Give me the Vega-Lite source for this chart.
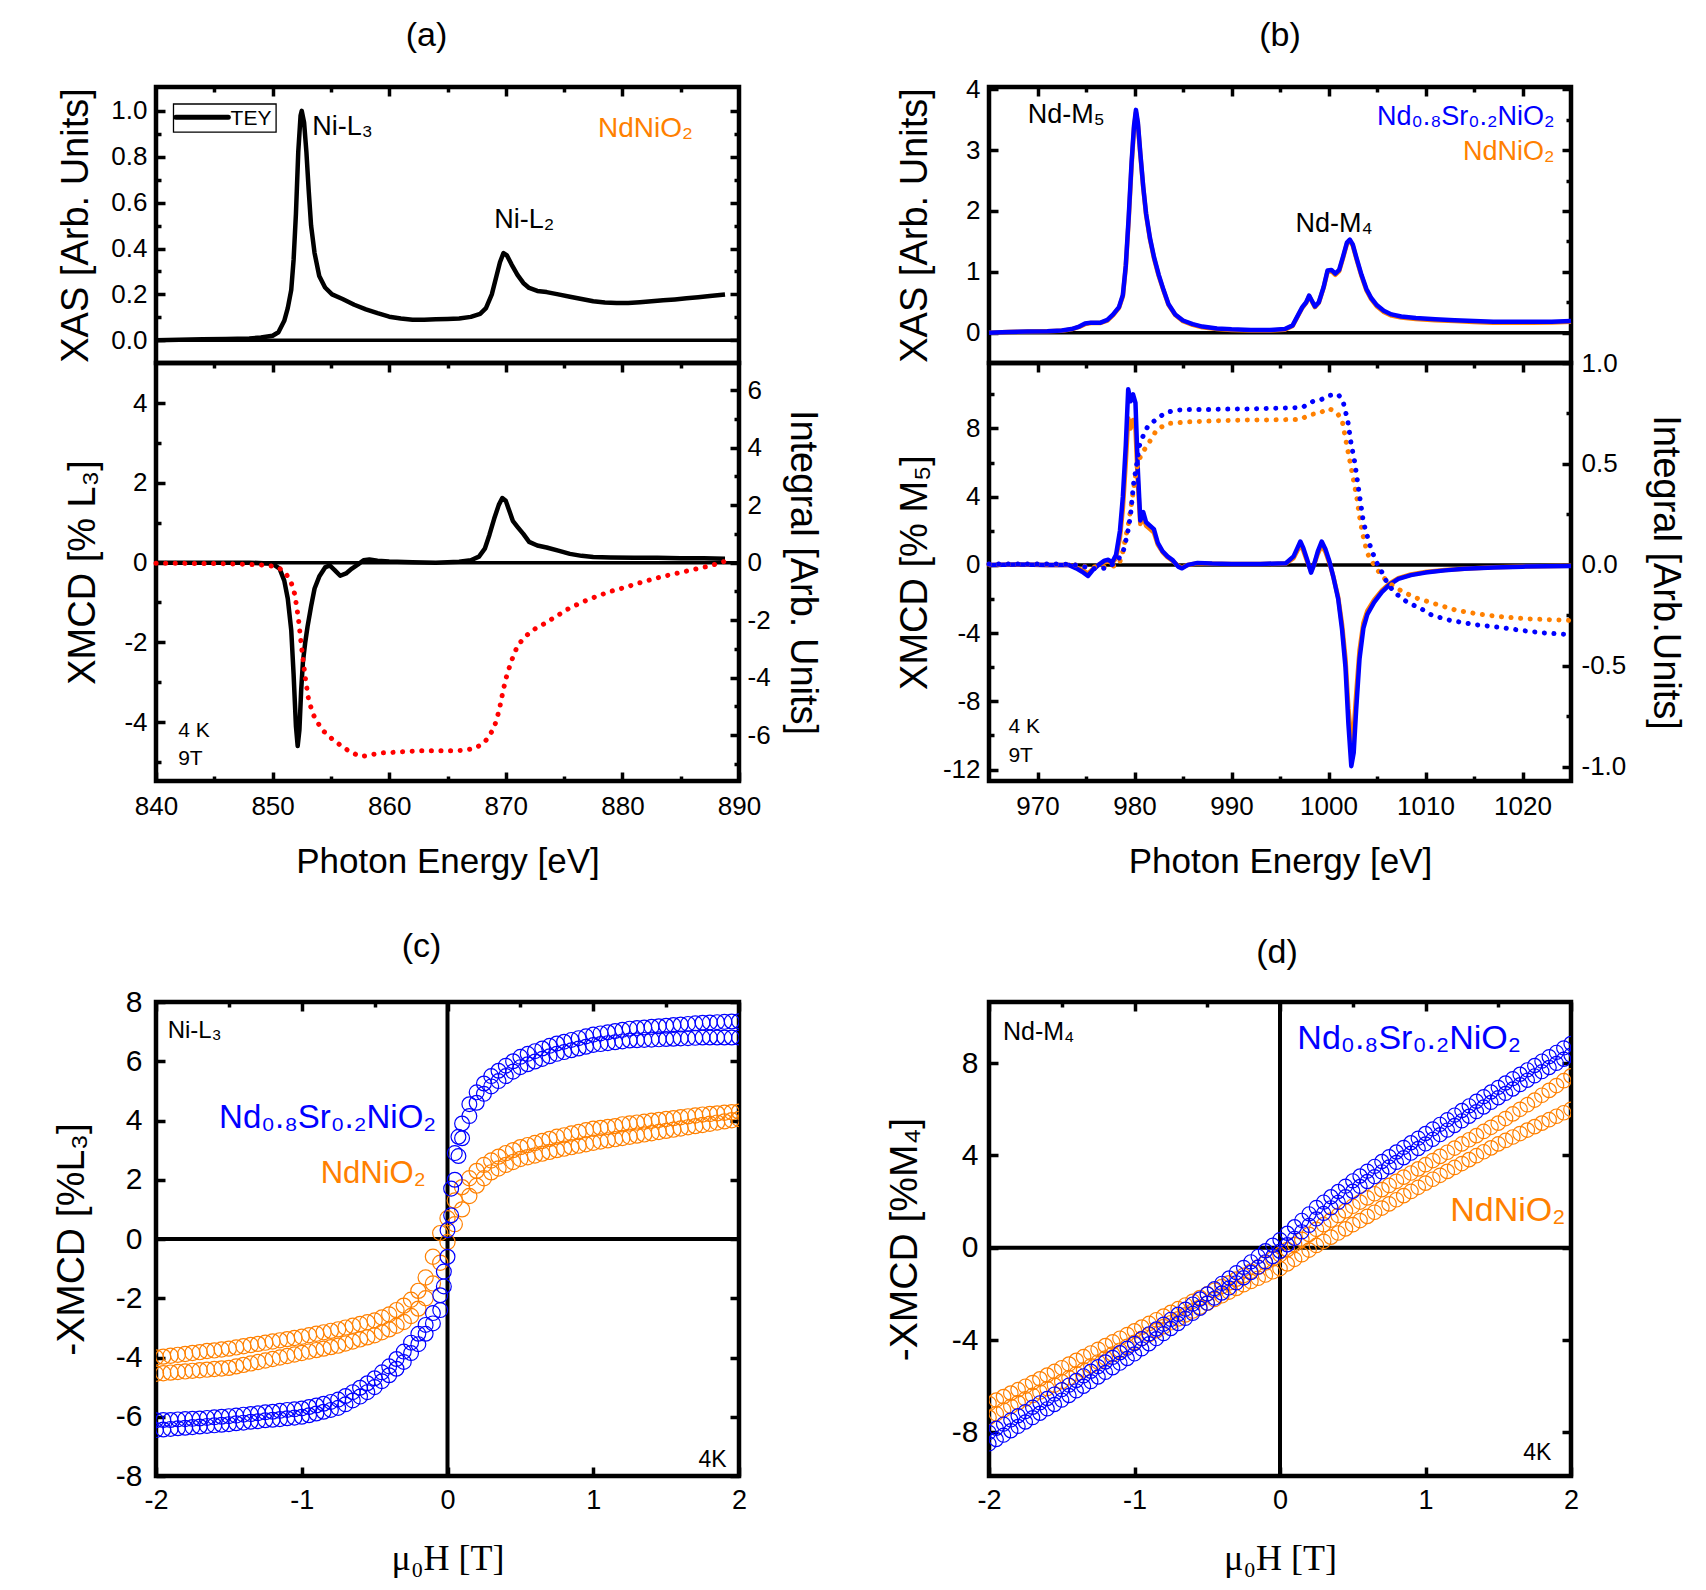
{
  "$schema": "https://vega.github.io/schema/vega-lite/v6.json",
  "background": "white",
  "padding": {"left": 50, "top": 16, "right": 5, "bottom": 5},
  "autosize": {"type": "pad"},
  "config": {
    "view": {"stroke": null},
    "font": "Liberation Sans",
    "axis": {"grid": false, "domain": false, "tickColor": "black", "tickWidth": 3.5, "labelColor": "black", "titleColor": "black", "labelFont": "Liberation Sans", "titleFont": "Liberation Sans", "titleFontWeight": "normal", "labelFontSize": 26, "titleFontSize": 35, "labelFlush": false, "labelOverlap": false, "labelBound": false},
    "title": {"font": "Liberation Sans", "fontWeight": "normal", "fontSize": 34, "color": "black", "anchor": "middle", "baseline": "bottom", "frame": "group"},
    "text": {"font": "Liberation Sans"}
  },
  "datasets": {
    "aXAS": [
      {"e":840,"v":0.0},{"e":842,"v":0.002},{"e":844,"v":0.004},{"e":846,"v":0.006},{"e":848,"v":0.008},{"e":849,"v":0.012},{"e":850,"v":0.02},{"e":850.5,"v":0.035},{"e":851,"v":0.085},{"e":851.3,"v":0.14},{"e":851.6,"v":0.22},{"e":851.8,"v":0.35},{"e":852.0,"v":0.55},{"e":852.2,"v":0.82},{"e":852.4,"v":0.98},{"e":852.5,"v":1.0},{"e":852.7,"v":0.95},{"e":852.9,"v":0.82},{"e":853.1,"v":0.65},{"e":853.3,"v":0.5},{"e":853.6,"v":0.38},{"e":854.0,"v":0.28},{"e":854.5,"v":0.23},{"e":855.1,"v":0.2},{"e":856,"v":0.18},{"e":857,"v":0.155},{"e":858,"v":0.135},{"e":859,"v":0.118},{"e":860,"v":0.103},{"e":861,"v":0.095},{"e":862,"v":0.09},{"e":863,"v":0.09},{"e":864,"v":0.092},{"e":865,"v":0.093},{"e":866,"v":0.095},{"e":867,"v":0.102},{"e":867.8,"v":0.115},{"e":868.3,"v":0.14},{"e":868.8,"v":0.2},{"e":869.2,"v":0.28},{"e":869.5,"v":0.34},{"e":869.8,"v":0.38},{"e":870.1,"v":0.37},{"e":870.5,"v":0.33},{"e":871,"v":0.285},{"e":871.5,"v":0.25},{"e":872,"v":0.228},{"e":872.7,"v":0.215},{"e":873.5,"v":0.21},{"e":874.5,"v":0.2},{"e":875.5,"v":0.19},{"e":876.5,"v":0.18},{"e":877.5,"v":0.17},{"e":878.5,"v":0.165},{"e":879.5,"v":0.162},{"e":880.5,"v":0.163},{"e":881.5,"v":0.166},{"e":882.5,"v":0.17},{"e":883.5,"v":0.174},{"e":884.5,"v":0.178},{"e":885.5,"v":0.183},{"e":886.5,"v":0.188},{"e":887.5,"v":0.193},{"e":888.8,"v":0.2}
    ],
    "aXMCD": [
      {"e":840,"v":0.0},{"e":845,"v":0.0},{"e":848,"v":0.0},{"e":850,"v":-0.03},{"e":850.6,"v":-0.15},{"e":851.0,"v":-0.45},{"e":851.3,"v":-0.9},{"e":851.6,"v":-1.7},{"e":851.8,"v":-2.8},{"e":852.0,"v":-4.1},{"e":852.15,"v":-4.6},{"e":852.3,"v":-4.2},{"e":852.45,"v":-3.2},{"e":852.6,"v":-2.5},{"e":852.8,"v":-2.0},{"e":853.0,"v":-1.6},{"e":853.3,"v":-1.1},{"e":853.6,"v":-0.65},{"e":854.0,"v":-0.35},{"e":854.5,"v":-0.12},{"e":854.9,"v":-0.07},{"e":855.3,"v":-0.18},{"e":855.8,"v":-0.33},{"e":856.3,"v":-0.27},{"e":856.8,"v":-0.15},{"e":857.3,"v":-0.05},{"e":857.8,"v":0.06},{"e":858.3,"v":0.08},{"e":859,"v":0.05},{"e":860,"v":0.03},{"e":862,"v":0.01},{"e":864,"v":0.0},{"e":866,"v":0.02},{"e":867,"v":0.06},{"e":867.7,"v":0.15},{"e":868.2,"v":0.35},{"e":868.6,"v":0.7},{"e":869.0,"v":1.1},{"e":869.4,"v":1.45},{"e":869.7,"v":1.62},{"e":870.0,"v":1.55},{"e":870.3,"v":1.3},{"e":870.6,"v":1.05},{"e":871.0,"v":0.9},{"e":871.5,"v":0.72},{"e":872.0,"v":0.52},{"e":872.7,"v":0.43},{"e":873.5,"v":0.38},{"e":874.5,"v":0.3},{"e":875.5,"v":0.22},{"e":876.5,"v":0.17},{"e":877.5,"v":0.14},{"e":879,"v":0.13},{"e":881,"v":0.12},{"e":883,"v":0.12},{"e":885,"v":0.11},{"e":887,"v":0.11},{"e":888.8,"v":0.1}
    ],
    "aInt": [
      {"e":840,"v":-0.02},{"e":841,"v":-0.02},{"e":842,"v":-0.02},{"e":843,"v":-0.03},{"e":844,"v":-0.03},{"e":845,"v":-0.03},{"e":846,"v":-0.04},{"e":847,"v":-0.05},{"e":848,"v":-0.06},{"e":849,"v":-0.08},{"e":850,"v":-0.12},{"e":850.6,"v":-0.2},{"e":851.1,"v":-0.35},{"e":851.6,"v":-0.7},{"e":851.9,"v":-1.1},{"e":852.2,"v":-1.9},{"e":852.5,"v":-3.0},{"e":852.8,"v":-4.0},{"e":853.1,"v":-4.8},{"e":853.5,"v":-5.3},{"e":854.2,"v":-5.8},{"e":855.0,"v":-6.1},{"e":855.8,"v":-6.35},{"e":856.7,"v":-6.6},{"e":857.6,"v":-6.75},{"e":858.5,"v":-6.68},{"e":859.5,"v":-6.62},{"e":860.5,"v":-6.6},{"e":861.5,"v":-6.57},{"e":862.5,"v":-6.55},{"e":863.5,"v":-6.55},{"e":864.5,"v":-6.55},{"e":865.5,"v":-6.55},{"e":866.5,"v":-6.53},{"e":867.4,"v":-6.45},{"e":868.0,"v":-6.3},{"e":868.5,"v":-6.1},{"e":868.9,"v":-5.8},{"e":869.2,"v":-5.5},{"e":869.5,"v":-5.0},{"e":869.8,"v":-4.4},{"e":870.1,"v":-3.9},{"e":870.5,"v":-3.4},{"e":871.0,"v":-2.9},{"e":871.6,"v":-2.6},{"e":872.3,"v":-2.35},{"e":873.2,"v":-2.15},{"e":874.2,"v":-1.9},{"e":875.3,"v":-1.62},{"e":876.5,"v":-1.38},{"e":877.8,"v":-1.17},{"e":879.0,"v":-1.0},{"e":880.3,"v":-0.85},{"e":881.5,"v":-0.7},{"e":882.8,"v":-0.55},{"e":884.0,"v":-0.43},{"e":885.2,"v":-0.32},{"e":886.3,"v":-0.22},{"e":887.3,"v":-0.13},{"e":888.2,"v":-0.03},{"e":888.9,"v":0.06}
    ],
    "bXASb": [
      {"e":965,"v":0.0},{"e":967,"v":0.01},{"e":969,"v":0.02},{"e":971,"v":0.025},{"e":972.5,"v":0.035},{"e":973.5,"v":0.06},{"e":974.3,"v":0.1},{"e":974.9,"v":0.15},{"e":975.5,"v":0.165},{"e":976.5,"v":0.165},{"e":977.2,"v":0.21},{"e":977.8,"v":0.3},{"e":978.4,"v":0.42},{"e":978.8,"v":0.62},{"e":979.1,"v":1.1},{"e":979.4,"v":1.9},{"e":979.7,"v":2.8},{"e":979.95,"v":3.4},{"e":980.15,"v":3.66},{"e":980.35,"v":3.45},{"e":980.6,"v":2.95},{"e":980.9,"v":2.4},{"e":981.2,"v":1.95},{"e":981.6,"v":1.55},{"e":982.0,"v":1.25},{"e":982.5,"v":0.95},{"e":983.0,"v":0.7},{"e":983.5,"v":0.47},{"e":984.2,"v":0.3},{"e":985.0,"v":0.2},{"e":986.0,"v":0.14},{"e":987.0,"v":0.1},{"e":988.5,"v":0.07},{"e":990,"v":0.055},{"e":992,"v":0.045},{"e":994,"v":0.045},{"e":995.5,"v":0.06},{"e":996.3,"v":0.12},{"e":996.9,"v":0.3},{"e":997.3,"v":0.42},{"e":997.7,"v":0.5},{"e":998.0,"v":0.61},{"e":998.3,"v":0.52},{"e":998.6,"v":0.43},{"e":999.0,"v":0.5},{"e":999.5,"v":0.75},{"e":999.9,"v":1.02},{"e":1000.3,"v":1.03},{"e":1000.7,"v":0.97},{"e":1001.1,"v":1.03},{"e":1001.5,"v":1.25},{"e":1001.9,"v":1.48},{"e":1002.2,"v":1.53},{"e":1002.5,"v":1.45},{"e":1002.9,"v":1.22},{"e":1003.4,"v":0.95},{"e":1003.9,"v":0.72},{"e":1004.4,"v":0.57},{"e":1005.0,"v":0.45},{"e":1005.7,"v":0.36},{"e":1006.5,"v":0.3},{"e":1007.5,"v":0.265},{"e":1009,"v":0.24},{"e":1011,"v":0.22},{"e":1013,"v":0.205},{"e":1015,"v":0.19},{"e":1017,"v":0.18},{"e":1019,"v":0.178},{"e":1021,"v":0.178},{"e":1023,"v":0.18},{"e":1025,"v":0.19}
    ],
    "bXASo": [
      {"e":965,"v":0.0},{"e":967,"v":0.01},{"e":969,"v":0.018},{"e":971,"v":0.022},{"e":972.5,"v":0.03},{"e":973.5,"v":0.055},{"e":974.3,"v":0.095},{"e":974.9,"v":0.14},{"e":975.5,"v":0.16},{"e":976.5,"v":0.16},{"e":977.2,"v":0.2},{"e":977.8,"v":0.29},{"e":978.4,"v":0.41},{"e":978.8,"v":0.6},{"e":979.1,"v":1.07},{"e":979.4,"v":1.85},{"e":979.7,"v":2.75},{"e":979.95,"v":3.36},{"e":980.15,"v":3.62},{"e":980.35,"v":3.42},{"e":980.6,"v":2.93},{"e":980.9,"v":2.38},{"e":981.2,"v":1.93},{"e":981.6,"v":1.53},{"e":982.0,"v":1.23},{"e":982.5,"v":0.93},{"e":983.0,"v":0.69},{"e":983.5,"v":0.46},{"e":984.2,"v":0.29},{"e":985.0,"v":0.19},{"e":986.0,"v":0.13},{"e":987.0,"v":0.09},{"e":988.5,"v":0.06},{"e":990,"v":0.045},{"e":992,"v":0.035},{"e":994,"v":0.035},{"e":995.5,"v":0.05},{"e":996.3,"v":0.11},{"e":996.9,"v":0.29},{"e":997.3,"v":0.41},{"e":997.7,"v":0.49},{"e":998.0,"v":0.6},{"e":998.3,"v":0.51},{"e":998.6,"v":0.42},{"e":999.0,"v":0.49},{"e":999.5,"v":0.74},{"e":999.9,"v":1.0},{"e":1000.3,"v":1.01},{"e":1000.7,"v":0.95},{"e":1001.1,"v":1.01},{"e":1001.5,"v":1.23},{"e":1001.9,"v":1.46},{"e":1002.2,"v":1.51},{"e":1002.5,"v":1.43},{"e":1002.9,"v":1.2},{"e":1003.4,"v":0.93},{"e":1003.9,"v":0.7},{"e":1004.4,"v":0.55},{"e":1005.0,"v":0.43},{"e":1005.7,"v":0.34},{"e":1006.5,"v":0.28},{"e":1007.5,"v":0.25},{"e":1009,"v":0.225},{"e":1011,"v":0.205},{"e":1013,"v":0.19},{"e":1015,"v":0.175},{"e":1017,"v":0.165},{"e":1019,"v":0.162},{"e":1021,"v":0.163},{"e":1023,"v":0.168},{"e":1025,"v":0.18}
    ],
    "bXMCDb": [
      {"e":965,"v":0.0},{"e":968,"v":0.02},{"e":971,"v":0.0},{"e":973.2,"v":0.0},{"e":974.0,"v":-0.2},{"e":974.6,"v":-0.4},{"e":975.2,"v":-0.65},{"e":975.7,"v":-0.3},{"e":976.3,"v":0.0},{"e":976.9,"v":0.25},{"e":977.3,"v":0.3},{"e":977.7,"v":0.15},{"e":978.1,"v":0.6},{"e":978.5,"v":2.0},{"e":978.8,"v":4.0},{"e":979.1,"v":7.0},{"e":979.35,"v":10.3},{"e":979.6,"v":9.6},{"e":979.85,"v":10.0},{"e":980.1,"v":9.5},{"e":980.35,"v":5.5},{"e":980.6,"v":2.6},{"e":980.9,"v":3.1},{"e":981.2,"v":2.5},{"e":981.6,"v":2.3},{"e":982.0,"v":2.1},{"e":982.4,"v":1.3},{"e":982.9,"v":0.8},{"e":983.4,"v":0.5},{"e":983.9,"v":0.3},{"e":984.5,"v":-0.1},{"e":984.9,"v":-0.2},{"e":985.5,"v":0.0},{"e":986.5,"v":0.12},{"e":988,"v":0.08},{"e":990,"v":0.06},{"e":993,"v":0.06},{"e":995.6,"v":0.1},{"e":996.4,"v":0.5},{"e":996.8,"v":1.0},{"e":997.1,"v":1.37},{"e":997.4,"v":1.0},{"e":997.8,"v":0.3},{"e":998.2,"v":-0.45},{"e":998.5,"v":0.0},{"e":998.9,"v":0.8},{"e":999.3,"v":1.37},{"e":999.7,"v":0.9},{"e":1000.1,"v":0.2},{"e":1000.5,"v":-0.7},{"e":1001.0,"v":-2.0},{"e":1001.4,"v":-3.8},{"e":1001.75,"v":-6.0},{"e":1002.05,"v":-9.3},{"e":1002.35,"v":-11.8},{"e":1002.6,"v":-11.0},{"e":1002.85,"v":-8.5},{"e":1003.2,"v":-5.5},{"e":1003.6,"v":-3.7},{"e":1004.0,"v":-2.9},{"e":1004.7,"v":-2.2},{"e":1005.5,"v":-1.6},{"e":1006.3,"v":-1.15},{"e":1007.2,"v":-0.82},{"e":1008.5,"v":-0.6},{"e":1010,"v":-0.45},{"e":1012,"v":-0.32},{"e":1014,"v":-0.23},{"e":1017,"v":-0.15},{"e":1020,"v":-0.1},{"e":1025,"v":-0.06}
    ],
    "bXMCDo": [
      {"e":965,"v":0.0},{"e":968,"v":0.02},{"e":971,"v":0.0},{"e":973.2,"v":0.0},{"e":974.0,"v":-0.15},{"e":974.6,"v":-0.3},{"e":975.2,"v":-0.5},{"e":975.7,"v":-0.25},{"e":976.3,"v":0.0},{"e":976.9,"v":0.15},{"e":977.3,"v":0.2},{"e":977.7,"v":0.1},{"e":978.1,"v":0.4},{"e":978.5,"v":1.6},{"e":978.8,"v":3.3},{"e":979.1,"v":6.0},{"e":979.35,"v":8.6},{"e":979.6,"v":8.0},{"e":979.85,"v":8.5},{"e":980.1,"v":8.0},{"e":980.35,"v":4.8},{"e":980.6,"v":2.4},{"e":980.9,"v":2.8},{"e":981.2,"v":2.3},{"e":981.6,"v":2.1},{"e":982.0,"v":1.9},{"e":982.4,"v":1.2},{"e":982.9,"v":0.75},{"e":983.4,"v":0.45},{"e":983.9,"v":0.25},{"e":984.5,"v":-0.05},{"e":984.9,"v":-0.15},{"e":985.5,"v":0.0},{"e":986.5,"v":0.1},{"e":988,"v":0.07},{"e":990,"v":0.05},{"e":993,"v":0.05},{"e":995.6,"v":0.08},{"e":996.4,"v":0.4},{"e":996.8,"v":0.85},{"e":997.1,"v":1.15},{"e":997.4,"v":0.85},{"e":997.8,"v":0.2},{"e":998.2,"v":-0.35},{"e":998.5,"v":0.0},{"e":998.9,"v":0.65},{"e":999.3,"v":1.15},{"e":999.7,"v":0.75},{"e":1000.1,"v":0.1},{"e":1000.5,"v":-0.7},{"e":1001.0,"v":-1.9},{"e":1001.4,"v":-3.5},{"e":1001.75,"v":-5.5},{"e":1002.05,"v":-8.4},{"e":1002.35,"v":-10.3},{"e":1002.6,"v":-9.7},{"e":1002.85,"v":-7.6},{"e":1003.2,"v":-5.0},{"e":1003.6,"v":-3.4},{"e":1004.0,"v":-2.7},{"e":1004.7,"v":-2.05},{"e":1005.5,"v":-1.5},{"e":1006.3,"v":-1.08},{"e":1007.2,"v":-0.78},{"e":1008.5,"v":-0.56},{"e":1010,"v":-0.42},{"e":1012,"v":-0.3},{"e":1014,"v":-0.22},{"e":1017,"v":-0.14},{"e":1020,"v":-0.09},{"e":1025,"v":-0.05}
    ],
    "bIntb": [
      {"e":965,"v":0.005},{"e":968,"v":0.005},{"e":971,"v":0.005},{"e":973.5,"v":0.003},{"e":974.5,"v":-0.005},{"e":975.5,"v":-0.017},{"e":976.5,"v":-0.02},{"e":977.4,"v":-0.01},{"e":978.2,"v":0.02},{"e":978.8,"v":0.06},{"e":979.3,"v":0.16},{"e":979.6,"v":0.25},{"e":979.9,"v":0.4},{"e":980.2,"v":0.49},{"e":980.5,"v":0.59},{"e":980.9,"v":0.64},{"e":981.3,"v":0.68},{"e":982.3,"v":0.725},{"e":983.3,"v":0.755},{"e":984.3,"v":0.767},{"e":986,"v":0.77},{"e":988,"v":0.77},{"e":990,"v":0.772},{"e":992,"v":0.773},{"e":994,"v":0.775},{"e":996,"v":0.778},{"e":997.3,"v":0.78},{"e":998.4,"v":0.81},{"e":999.3,"v":0.82},{"e":1000.1,"v":0.84},{"e":1001.0,"v":0.845},{"e":1001.5,"v":0.81},{"e":1002.0,"v":0.71},{"e":1002.3,"v":0.61},{"e":1002.7,"v":0.51},{"e":1003.0,"v":0.41},{"e":1003.3,"v":0.31},{"e":1003.6,"v":0.21},{"e":1003.9,"v":0.16},{"e":1004.2,"v":0.108},{"e":1004.5,"v":0.067},{"e":1004.9,"v":0.017},{"e":1005.4,"v":-0.025},{"e":1005.9,"v":-0.075},{"e":1006.6,"v":-0.125},{"e":1007.4,"v":-0.16},{"e":1008.3,"v":-0.19},{"e":1009.3,"v":-0.21},{"e":1010.7,"v":-0.25},{"e":1012.6,"v":-0.275},{"e":1015.0,"v":-0.295},{"e":1017.5,"v":-0.308},{"e":1020.0,"v":-0.325},{"e":1022.5,"v":-0.338},{"e":1025,"v":-0.345}
    ],
    "bInto": [
      {"e":965,"v":0.003},{"e":970,"v":0.003},{"e":973.5,"v":0.002},{"e":975,"v":-0.008},{"e":976.5,"v":-0.012},{"e":977.6,"v":-0.008},{"e":978.4,"v":0.0},{"e":978.8,"v":0.067},{"e":979.4,"v":0.21},{"e":979.8,"v":0.34},{"e":980.2,"v":0.475},{"e":980.7,"v":0.55},{"e":981.3,"v":0.59},{"e":982.3,"v":0.67},{"e":983.4,"v":0.7},{"e":985.4,"v":0.708},{"e":988,"v":0.713},{"e":991,"v":0.717},{"e":994,"v":0.718},{"e":996,"v":0.72},{"e":997.1,"v":0.72},{"e":998.1,"v":0.745},{"e":999.0,"v":0.75},{"e":1000.0,"v":0.775},{"e":1000.8,"v":0.758},{"e":1001.4,"v":0.717},{"e":1001.7,"v":0.64},{"e":1002.1,"v":0.54},{"e":1002.5,"v":0.44},{"e":1002.9,"v":0.34},{"e":1003.2,"v":0.24},{"e":1003.5,"v":0.158},{"e":1004.0,"v":0.058},{"e":1004.6,"v":0.008},{"e":1005.4,"v":-0.05},{"e":1006.4,"v":-0.095},{"e":1007.4,"v":-0.125},{"e":1008.8,"v":-0.16},{"e":1010.8,"v":-0.19},{"e":1013.2,"v":-0.225},{"e":1015.7,"v":-0.245},{"e":1018.1,"v":-0.258},{"e":1020.6,"v":-0.267},{"e":1025,"v":-0.275}
    ],
    "cB": [
      {"h":-2,"v":-6.12},{"h":-1.95,"v":-6.11},{"h":-1.9,"v":-6.11},{"h":-1.85,"v":-6.09},{"h":-1.8,"v":-6.08},{"h":-1.75,"v":-6.07},{"h":-1.7,"v":-6.06},{"h":-1.65,"v":-6.04},{"h":-1.6,"v":-6.02},{"h":-1.55,"v":-6.0},{"h":-1.5,"v":-5.98},{"h":-1.45,"v":-5.96},{"h":-1.4,"v":-5.93},{"h":-1.35,"v":-5.91},{"h":-1.3,"v":-5.88},{"h":-1.25,"v":-5.85},{"h":-1.2,"v":-5.83},{"h":-1.15,"v":-5.8},{"h":-1.1,"v":-5.77},{"h":-1.05,"v":-5.75},{"h":-1,"v":-5.72},{"h":-0.95,"v":-5.67},{"h":-0.9,"v":-5.62},{"h":-0.85,"v":-5.56},{"h":-0.8,"v":-5.5},{"h":-0.75,"v":-5.42},{"h":-0.7,"v":-5.3},{"h":-0.65,"v":-5.17},{"h":-0.6,"v":-5.02},{"h":-0.55,"v":-4.87},{"h":-0.5,"v":-4.7},{"h":-0.45,"v":-4.5},{"h":-0.4,"v":-4.3},{"h":-0.35,"v":-4.05},{"h":-0.3,"v":-3.8},{"h":-0.25,"v":-3.5},{"h":-0.2,"v":-3.2},{"h":-0.15,"v":-2.9},{"h":-0.1,"v":-2.5},{"h":-0.05,"v":-1.9},{"h":-0.025,"v":-1.1},{"h":0,"v":0.3},{"h":0.025,"v":1.7},{"h":0.05,"v":2.9},{"h":0.075,"v":3.45},{"h":0.1,"v":3.9},{"h":0.15,"v":4.55},{"h":0.2,"v":4.95},{"h":0.25,"v":5.25},{"h":0.3,"v":5.5},{"h":0.35,"v":5.68},{"h":0.4,"v":5.85},{"h":0.45,"v":6.0},{"h":0.5,"v":6.15},{"h":0.55,"v":6.25},{"h":0.6,"v":6.34},{"h":0.65,"v":6.43},{"h":0.7,"v":6.52},{"h":0.75,"v":6.6},{"h":0.8,"v":6.66},{"h":0.85,"v":6.72},{"h":0.9,"v":6.78},{"h":0.95,"v":6.84},{"h":1,"v":6.9},{"h":1.05,"v":6.94},{"h":1.1,"v":6.98},{"h":1.15,"v":7.02},{"h":1.2,"v":7.06},{"h":1.25,"v":7.1},{"h":1.3,"v":7.12},{"h":1.35,"v":7.14},{"h":1.4,"v":7.16},{"h":1.45,"v":7.18},{"h":1.5,"v":7.2},{"h":1.55,"v":7.22},{"h":1.6,"v":7.24},{"h":1.65,"v":7.26},{"h":1.7,"v":7.28},{"h":1.75,"v":7.3},{"h":1.8,"v":7.31},{"h":1.85,"v":7.32},{"h":1.9,"v":7.33},{"h":1.95,"v":7.34},{"h":2,"v":7.35},
      {"h":-2,"v":-6.45},{"h":-1.95,"v":-6.43},{"h":-1.9,"v":-6.41},{"h":-1.85,"v":-6.39},{"h":-1.8,"v":-6.37},{"h":-1.75,"v":-6.35},{"h":-1.7,"v":-6.33},{"h":-1.65,"v":-6.31},{"h":-1.6,"v":-6.29},{"h":-1.55,"v":-6.27},{"h":-1.5,"v":-6.25},{"h":-1.45,"v":-6.22},{"h":-1.4,"v":-6.2},{"h":-1.35,"v":-6.17},{"h":-1.3,"v":-6.15},{"h":-1.25,"v":-6.12},{"h":-1.2,"v":-6.1},{"h":-1.15,"v":-6.08},{"h":-1.1,"v":-6.05},{"h":-1.05,"v":-6.03},{"h":-1,"v":-6.0},{"h":-0.95,"v":-5.95},{"h":-0.9,"v":-5.89},{"h":-0.85,"v":-5.83},{"h":-0.8,"v":-5.77},{"h":-0.75,"v":-5.7},{"h":-0.7,"v":-5.58},{"h":-0.65,"v":-5.45},{"h":-0.6,"v":-5.32},{"h":-0.55,"v":-5.17},{"h":-0.5,"v":-5.0},{"h":-0.45,"v":-4.8},{"h":-0.4,"v":-4.6},{"h":-0.35,"v":-4.38},{"h":-0.3,"v":-4.15},{"h":-0.25,"v":-3.85},{"h":-0.2,"v":-3.55},{"h":-0.15,"v":-3.2},{"h":-0.1,"v":-2.85},{"h":-0.05,"v":-2.4},{"h":-0.025,"v":-1.6},{"h":0,"v":-0.6},{"h":0.025,"v":0.8},{"h":0.05,"v":2.0},{"h":0.075,"v":2.8},{"h":0.1,"v":3.4},{"h":0.15,"v":4.15},{"h":0.2,"v":4.6},{"h":0.25,"v":4.9},{"h":0.3,"v":5.15},{"h":0.35,"v":5.33},{"h":0.4,"v":5.5},{"h":0.45,"v":5.65},{"h":0.5,"v":5.8},{"h":0.55,"v":5.9},{"h":0.6,"v":5.99},{"h":0.65,"v":6.08},{"h":0.7,"v":6.17},{"h":0.75,"v":6.25},{"h":0.8,"v":6.31},{"h":0.85,"v":6.37},{"h":0.9,"v":6.43},{"h":0.95,"v":6.49},{"h":1,"v":6.55},{"h":1.05,"v":6.58},{"h":1.1,"v":6.61},{"h":1.15,"v":6.64},{"h":1.2,"v":6.67},{"h":1.25,"v":6.7},{"h":1.3,"v":6.71},{"h":1.35,"v":6.72},{"h":1.4,"v":6.73},{"h":1.45,"v":6.74},{"h":1.5,"v":6.75},{"h":1.55,"v":6.76},{"h":1.6,"v":6.77},{"h":1.65,"v":6.78},{"h":1.7,"v":6.79},{"h":1.75,"v":6.8},{"h":1.8,"v":6.8},{"h":1.85,"v":6.8},{"h":1.9,"v":6.8},{"h":1.95,"v":6.8},{"h":2,"v":6.8}
    ],
    "cO": [
      {"h":-2,"v":-4.0},{"h":-1.95,"v":-3.97},{"h":-1.9,"v":-3.94},{"h":-1.85,"v":-3.91},{"h":-1.8,"v":-3.88},{"h":-1.75,"v":-3.85},{"h":-1.7,"v":-3.82},{"h":-1.65,"v":-3.78},{"h":-1.6,"v":-3.76},{"h":-1.55,"v":-3.73},{"h":-1.5,"v":-3.7},{"h":-1.45,"v":-3.66},{"h":-1.4,"v":-3.62},{"h":-1.35,"v":-3.58},{"h":-1.3,"v":-3.54},{"h":-1.25,"v":-3.5},{"h":-1.2,"v":-3.46},{"h":-1.15,"v":-3.42},{"h":-1.1,"v":-3.38},{"h":-1.05,"v":-3.34},{"h":-1,"v":-3.3},{"h":-0.95,"v":-3.25},{"h":-0.9,"v":-3.2},{"h":-0.85,"v":-3.15},{"h":-0.8,"v":-3.1},{"h":-0.75,"v":-3.05},{"h":-0.7,"v":-2.99},{"h":-0.65,"v":-2.93},{"h":-0.6,"v":-2.87},{"h":-0.55,"v":-2.81},{"h":-0.5,"v":-2.75},{"h":-0.45,"v":-2.65},{"h":-0.4,"v":-2.55},{"h":-0.35,"v":-2.4},{"h":-0.3,"v":-2.25},{"h":-0.25,"v":-2.05},{"h":-0.2,"v":-1.75},{"h":-0.15,"v":-1.3},{"h":-0.1,"v":-0.6},{"h":-0.05,"v":0.2},{"h":0,"v":0.7},{"h":0.05,"v":1.3},{"h":0.1,"v":1.75},{"h":0.15,"v":2.05},{"h":0.2,"v":2.3},{"h":0.25,"v":2.5},{"h":0.3,"v":2.65},{"h":0.35,"v":2.78},{"h":0.4,"v":2.9},{"h":0.45,"v":3.0},{"h":0.5,"v":3.1},{"h":0.55,"v":3.17},{"h":0.6,"v":3.24},{"h":0.65,"v":3.31},{"h":0.7,"v":3.38},{"h":0.75,"v":3.45},{"h":0.8,"v":3.5},{"h":0.85,"v":3.56},{"h":0.9,"v":3.61},{"h":0.95,"v":3.67},{"h":1,"v":3.72},{"h":1.05,"v":3.75},{"h":1.1,"v":3.78},{"h":1.15,"v":3.81},{"h":1.2,"v":3.87},{"h":1.25,"v":3.9},{"h":1.3,"v":3.93},{"h":1.35,"v":3.96},{"h":1.4,"v":3.99},{"h":1.45,"v":4.02},{"h":1.5,"v":4.05},{"h":1.55,"v":4.08},{"h":1.6,"v":4.11},{"h":1.65,"v":4.14},{"h":1.7,"v":4.17},{"h":1.75,"v":4.2},{"h":1.8,"v":4.22},{"h":1.85,"v":4.24},{"h":1.9,"v":4.26},{"h":1.95,"v":4.28},{"h":2,"v":4.3},
      {"h":-2,"v":-4.55},{"h":-1.95,"v":-4.53},{"h":-1.9,"v":-4.51},{"h":-1.85,"v":-4.49},{"h":-1.8,"v":-4.47},{"h":-1.75,"v":-4.45},{"h":-1.7,"v":-4.43},{"h":-1.65,"v":-4.41},{"h":-1.6,"v":-4.39},{"h":-1.55,"v":-4.37},{"h":-1.5,"v":-4.35},{"h":-1.45,"v":-4.3},{"h":-1.4,"v":-4.25},{"h":-1.35,"v":-4.2},{"h":-1.3,"v":-4.15},{"h":-1.25,"v":-4.1},{"h":-1.2,"v":-4.05},{"h":-1.15,"v":-4.0},{"h":-1.1,"v":-3.95},{"h":-1.05,"v":-3.9},{"h":-1,"v":-3.85},{"h":-0.95,"v":-3.8},{"h":-0.9,"v":-3.75},{"h":-0.85,"v":-3.7},{"h":-0.8,"v":-3.65},{"h":-0.75,"v":-3.6},{"h":-0.7,"v":-3.53},{"h":-0.65,"v":-3.46},{"h":-0.6,"v":-3.39},{"h":-0.55,"v":-3.32},{"h":-0.5,"v":-3.25},{"h":-0.45,"v":-3.15},{"h":-0.4,"v":-3.05},{"h":-0.35,"v":-2.93},{"h":-0.3,"v":-2.8},{"h":-0.25,"v":-2.6},{"h":-0.2,"v":-2.35},{"h":-0.15,"v":-2.0},{"h":-0.1,"v":-1.5},{"h":-0.05,"v":-0.8},{"h":0,"v":-0.1},{"h":0.05,"v":0.5},{"h":0.1,"v":1.0},{"h":0.15,"v":1.45},{"h":0.2,"v":1.8},{"h":0.25,"v":2.05},{"h":0.3,"v":2.25},{"h":0.35,"v":2.38},{"h":0.4,"v":2.5},{"h":0.45,"v":2.6},{"h":0.5,"v":2.7},{"h":0.55,"v":2.76},{"h":0.6,"v":2.82},{"h":0.65,"v":2.88},{"h":0.7,"v":2.94},{"h":0.75,"v":3.0},{"h":0.8,"v":3.05},{"h":0.85,"v":3.1},{"h":0.9,"v":3.15},{"h":0.95,"v":3.2},{"h":1,"v":3.25},{"h":1.05,"v":3.29},{"h":1.1,"v":3.33},{"h":1.15,"v":3.37},{"h":1.2,"v":3.41},{"h":1.25,"v":3.45},{"h":1.3,"v":3.49},{"h":1.35,"v":3.53},{"h":1.4,"v":3.57},{"h":1.45,"v":3.61},{"h":1.5,"v":3.65},{"h":1.55,"v":3.69},{"h":1.6,"v":3.73},{"h":1.65,"v":3.77},{"h":1.7,"v":3.81},{"h":1.75,"v":3.85},{"h":1.8,"v":3.89},{"h":1.85,"v":3.93},{"h":1.9,"v":3.97},{"h":1.95,"v":4.01},{"h":2,"v":4.05}
    ],
    "dB": [
      {"h":-2,"v":-8.0},{"h":-1.95,"v":-7.82},{"h":-1.9,"v":-7.64},{"h":-1.85,"v":-7.46},{"h":-1.8,"v":-7.28},{"h":-1.75,"v":-7.1},{"h":-1.7,"v":-6.91},{"h":-1.65,"v":-6.72},{"h":-1.6,"v":-6.53},{"h":-1.55,"v":-6.34},{"h":-1.5,"v":-6.15},{"h":-1.45,"v":-5.95},{"h":-1.4,"v":-5.75},{"h":-1.35,"v":-5.55},{"h":-1.3,"v":-5.35},{"h":-1.25,"v":-5.15},{"h":-1.2,"v":-4.95},{"h":-1.15,"v":-4.75},{"h":-1.1,"v":-4.55},{"h":-1.05,"v":-4.35},{"h":-1,"v":-4.15},{"h":-0.95,"v":-3.94},{"h":-0.9,"v":-3.73},{"h":-0.85,"v":-3.52},{"h":-0.8,"v":-3.31},{"h":-0.75,"v":-3.1},{"h":-0.7,"v":-2.88},{"h":-0.65,"v":-2.66},{"h":-0.6,"v":-2.44},{"h":-0.55,"v":-2.22},{"h":-0.5,"v":-2.0},{"h":-0.45,"v":-1.77},{"h":-0.4,"v":-1.54},{"h":-0.35,"v":-1.31},{"h":-0.3,"v":-1.08},{"h":-0.25,"v":-0.85},{"h":-0.2,"v":-0.61},{"h":-0.15,"v":-0.37},{"h":-0.1,"v":-0.13},{"h":-0.05,"v":0.11},{"h":0,"v":0.35},{"h":0.05,"v":0.63},{"h":0.1,"v":0.91},{"h":0.15,"v":1.19},{"h":0.2,"v":1.47},{"h":0.25,"v":1.75},{"h":0.3,"v":1.98},{"h":0.35,"v":2.21},{"h":0.4,"v":2.44},{"h":0.45,"v":2.67},{"h":0.5,"v":2.9},{"h":0.55,"v":3.11},{"h":0.6,"v":3.32},{"h":0.65,"v":3.53},{"h":0.7,"v":3.74},{"h":0.75,"v":3.95},{"h":0.8,"v":4.15},{"h":0.85,"v":4.35},{"h":0.9,"v":4.55},{"h":0.95,"v":4.75},{"h":1,"v":4.95},{"h":1.05,"v":5.15},{"h":1.1,"v":5.35},{"h":1.15,"v":5.55},{"h":1.2,"v":5.75},{"h":1.25,"v":5.95},{"h":1.3,"v":6.15},{"h":1.35,"v":6.35},{"h":1.4,"v":6.55},{"h":1.45,"v":6.75},{"h":1.5,"v":6.95},{"h":1.55,"v":7.14},{"h":1.6,"v":7.33},{"h":1.65,"v":7.52},{"h":1.7,"v":7.71},{"h":1.75,"v":7.9},{"h":1.8,"v":8.09},{"h":1.85,"v":8.28},{"h":1.9,"v":8.47},{"h":1.95,"v":8.66},{"h":2,"v":8.85},
      {"h":-2,"v":-8.5},{"h":-1.95,"v":-8.31},{"h":-1.9,"v":-8.12},{"h":-1.85,"v":-7.93},{"h":-1.8,"v":-7.74},{"h":-1.75,"v":-7.55},{"h":-1.7,"v":-7.36},{"h":-1.65,"v":-7.17},{"h":-1.6,"v":-6.98},{"h":-1.55,"v":-6.79},{"h":-1.5,"v":-6.6},{"h":-1.45,"v":-6.4},{"h":-1.4,"v":-6.2},{"h":-1.35,"v":-6.0},{"h":-1.3,"v":-5.8},{"h":-1.25,"v":-5.6},{"h":-1.2,"v":-5.4},{"h":-1.15,"v":-5.2},{"h":-1.1,"v":-5.0},{"h":-1.05,"v":-4.8},{"h":-1,"v":-4.6},{"h":-0.95,"v":-4.38},{"h":-0.9,"v":-4.16},{"h":-0.85,"v":-3.94},{"h":-0.8,"v":-3.72},{"h":-0.75,"v":-3.5},{"h":-0.7,"v":-3.28},{"h":-0.65,"v":-3.06},{"h":-0.6,"v":-2.84},{"h":-0.55,"v":-2.62},{"h":-0.5,"v":-2.4},{"h":-0.45,"v":-2.18},{"h":-0.4,"v":-1.96},{"h":-0.35,"v":-1.74},{"h":-0.3,"v":-1.52},{"h":-0.25,"v":-1.3},{"h":-0.2,"v":-1.07},{"h":-0.15,"v":-0.84},{"h":-0.1,"v":-0.61},{"h":-0.05,"v":-0.38},{"h":0,"v":-0.15},{"h":0.05,"v":0.13},{"h":0.1,"v":0.41},{"h":0.15,"v":0.69},{"h":0.2,"v":0.97},{"h":0.25,"v":1.25},{"h":0.3,"v":1.49},{"h":0.35,"v":1.73},{"h":0.4,"v":1.97},{"h":0.45,"v":2.21},{"h":0.5,"v":2.45},{"h":0.55,"v":2.66},{"h":0.6,"v":2.87},{"h":0.65,"v":3.08},{"h":0.7,"v":3.29},{"h":0.75,"v":3.5},{"h":0.8,"v":3.7},{"h":0.85,"v":3.9},{"h":0.9,"v":4.1},{"h":0.95,"v":4.3},{"h":1,"v":4.5},{"h":1.05,"v":4.7},{"h":1.1,"v":4.9},{"h":1.15,"v":5.1},{"h":1.2,"v":5.3},{"h":1.25,"v":5.5},{"h":1.3,"v":5.7},{"h":1.35,"v":5.9},{"h":1.4,"v":6.1},{"h":1.45,"v":6.3},{"h":1.5,"v":6.5},{"h":1.55,"v":6.69},{"h":1.6,"v":6.88},{"h":1.65,"v":7.07},{"h":1.7,"v":7.26},{"h":1.75,"v":7.45},{"h":1.8,"v":7.63},{"h":1.85,"v":7.81},{"h":1.9,"v":7.99},{"h":1.95,"v":8.17},{"h":2,"v":8.35}
    ],
    "dO": [
      {"h":-2,"v":-6.75},{"h":-1.95,"v":-6.6},{"h":-1.9,"v":-6.45},{"h":-1.85,"v":-6.3},{"h":-1.8,"v":-6.15},{"h":-1.75,"v":-6.0},{"h":-1.7,"v":-5.84},{"h":-1.65,"v":-5.68},{"h":-1.6,"v":-5.52},{"h":-1.55,"v":-5.36},{"h":-1.5,"v":-5.2},{"h":-1.45,"v":-5.04},{"h":-1.4,"v":-4.88},{"h":-1.35,"v":-4.72},{"h":-1.3,"v":-4.56},{"h":-1.25,"v":-4.4},{"h":-1.2,"v":-4.24},{"h":-1.15,"v":-4.08},{"h":-1.1,"v":-3.92},{"h":-1.05,"v":-3.76},{"h":-1,"v":-3.6},{"h":-0.95,"v":-3.44},{"h":-0.9,"v":-3.28},{"h":-0.85,"v":-3.12},{"h":-0.8,"v":-2.96},{"h":-0.75,"v":-2.8},{"h":-0.7,"v":-2.64},{"h":-0.65,"v":-2.48},{"h":-0.6,"v":-2.32},{"h":-0.55,"v":-2.16},{"h":-0.5,"v":-2.0},{"h":-0.45,"v":-1.84},{"h":-0.4,"v":-1.68},{"h":-0.35,"v":-1.52},{"h":-0.3,"v":-1.36},{"h":-0.25,"v":-1.2},{"h":-0.2,"v":-1.02},{"h":-0.15,"v":-0.84},{"h":-0.1,"v":-0.66},{"h":-0.05,"v":-0.48},{"h":0,"v":-0.3},{"h":0.05,"v":-0.08},{"h":0.1,"v":0.14},{"h":0.15,"v":0.36},{"h":0.2,"v":0.58},{"h":0.25,"v":0.8},{"h":0.3,"v":1.0},{"h":0.35,"v":1.2},{"h":0.4,"v":1.4},{"h":0.45,"v":1.6},{"h":0.5,"v":1.8},{"h":0.55,"v":1.98},{"h":0.6,"v":2.16},{"h":0.65,"v":2.34},{"h":0.7,"v":2.52},{"h":0.75,"v":2.7},{"h":0.8,"v":2.88},{"h":0.85,"v":3.06},{"h":0.9,"v":3.24},{"h":0.95,"v":3.42},{"h":1,"v":3.6},{"h":1.05,"v":3.78},{"h":1.1,"v":3.96},{"h":1.15,"v":4.14},{"h":1.2,"v":4.32},{"h":1.25,"v":4.5},{"h":1.3,"v":4.68},{"h":1.35,"v":4.86},{"h":1.4,"v":5.04},{"h":1.45,"v":5.22},{"h":1.5,"v":5.4},{"h":1.55,"v":5.6},{"h":1.6,"v":5.8},{"h":1.65,"v":6.0},{"h":1.7,"v":6.2},{"h":1.75,"v":6.4},{"h":1.8,"v":6.61},{"h":1.85,"v":6.82},{"h":1.9,"v":7.03},{"h":1.95,"v":7.24},{"h":2,"v":7.45},
      {"h":-2,"v":-7.35},{"h":-1.95,"v":-7.19},{"h":-1.9,"v":-7.03},{"h":-1.85,"v":-6.87},{"h":-1.8,"v":-6.71},{"h":-1.75,"v":-6.55},{"h":-1.7,"v":-6.4},{"h":-1.65,"v":-6.25},{"h":-1.6,"v":-6.1},{"h":-1.55,"v":-5.95},{"h":-1.5,"v":-5.8},{"h":-1.45,"v":-5.63},{"h":-1.4,"v":-5.46},{"h":-1.35,"v":-5.29},{"h":-1.3,"v":-5.12},{"h":-1.25,"v":-4.95},{"h":-1.2,"v":-4.78},{"h":-1.15,"v":-4.61},{"h":-1.1,"v":-4.44},{"h":-1.05,"v":-4.27},{"h":-1,"v":-4.1},{"h":-0.95,"v":-3.93},{"h":-0.9,"v":-3.76},{"h":-0.85,"v":-3.59},{"h":-0.8,"v":-3.42},{"h":-0.75,"v":-3.25},{"h":-0.7,"v":-3.08},{"h":-0.65,"v":-2.91},{"h":-0.6,"v":-2.74},{"h":-0.55,"v":-2.57},{"h":-0.5,"v":-2.4},{"h":-0.45,"v":-2.24},{"h":-0.4,"v":-2.08},{"h":-0.35,"v":-1.92},{"h":-0.3,"v":-1.76},{"h":-0.25,"v":-1.6},{"h":-0.2,"v":-1.46},{"h":-0.15,"v":-1.32},{"h":-0.1,"v":-1.18},{"h":-0.05,"v":-1.04},{"h":0,"v":-0.9},{"h":0.05,"v":-0.7},{"h":0.1,"v":-0.5},{"h":0.15,"v":-0.3},{"h":0.2,"v":-0.1},{"h":0.25,"v":0.1},{"h":0.3,"v":0.28},{"h":0.35,"v":0.46},{"h":0.4,"v":0.64},{"h":0.45,"v":0.82},{"h":0.5,"v":1.0},{"h":0.55,"v":1.18},{"h":0.6,"v":1.36},{"h":0.65,"v":1.54},{"h":0.7,"v":1.72},{"h":0.75,"v":1.9},{"h":0.8,"v":2.08},{"h":0.85,"v":2.26},{"h":0.9,"v":2.44},{"h":0.95,"v":2.62},{"h":1,"v":2.8},{"h":1.05,"v":2.97},{"h":1.1,"v":3.14},{"h":1.15,"v":3.31},{"h":1.2,"v":3.48},{"h":1.25,"v":3.65},{"h":1.3,"v":3.82},{"h":1.35,"v":3.99},{"h":1.4,"v":4.16},{"h":1.45,"v":4.33},{"h":1.5,"v":4.5},{"h":1.55,"v":4.65},{"h":1.6,"v":4.8},{"h":1.65,"v":4.95},{"h":1.7,"v":5.1},{"h":1.75,"v":5.25},{"h":1.8,"v":5.4},{"h":1.85,"v":5.55},{"h":1.9,"v":5.7},{"h":1.95,"v":5.85},{"h":2,"v":6.0}
    ]
  },
  "columns": 2,
  "spacing": {"row": 0, "column": 250},
  "bounds": "flush",
  "concat": [
    {
      "width": 583, "height": 276,
      "view": {"stroke": "black", "strokeWidth": 4.5},
      "title": {"text": "(a)", "offset": 32, "dx": -21},
      "layer": [
        {
          "data": {"values": [{}]},
          "mark": {"type": "rule", "color": "black", "strokeWidth": 3.5},
          "encoding": {"y": {"datum": 0, "type": "quantitative", "scale": {"domain": [-0.099, 1.104], "nice": false}, "axis": {"orient": "right", "values": [0,0.1,0.2,0.3,0.4,0.5,0.6,0.7,0.8,0.9,1], "labels": false, "title": null, "tickSize": {"condition": {"test": "round(datum.value*10) % 2 === 0", "value": -9}, "value": -5}}}}
        },
        {
          "data": {"values": [{"x1": 841.5, "x2": 850.3, "y1": 1.03, "y2": 0.907}]},
          "mark": {"type": "rect", "fill": "white", "stroke": "black", "strokeWidth": 1.3},
          "encoding": {"x": {"field": "x1", "type": "quantitative", "scale": {"domain": [840, 890], "nice": false}, "axis": null}, "x2": {"field": "x2"}, "y": {"field": "y1", "type": "quantitative", "scale": {"domain": [-0.099, 1.104], "nice": false}, "axis": null}, "y2": {"field": "y2"}}
        },
        {
          "data": {"values": [{"x1": 841.7, "x2": 846.2, "y": 0.972}]},
          "mark": {"type": "rule", "color": "black", "strokeWidth": 5, "strokeCap": "round"},
          "encoding": {"x": {"field": "x1", "type": "quantitative", "scale": {"domain": [840, 890], "nice": false}, "axis": null}, "x2": {"field": "x2"}, "y": {"field": "y", "type": "quantitative", "scale": {"domain": [-0.099, 1.104], "nice": false}, "axis": null}}
        },
        {
          "data": {"name": "aXAS"},
          "mark": {"type": "line", "color": "black", "strokeWidth": 4.5, "strokeJoin": "round"},
          "encoding": {
            "x": {"field": "e", "type": "quantitative", "scale": {"domain": [840, 890], "nice": false}, "axis": {"orient": "top", "values": [845,850,855,860,865,870,875,880,885], "labels": false, "title": null, "tickSize": {"condition": {"test": "datum.value % 10 === 0", "value": -9}, "value": -5}}},
            "y": {"field": "v", "type": "quantitative", "scale": {"domain": [-0.099, 1.104], "nice": false}, "axis": {"orient": "left", "values": [0,0.1,0.2,0.3,0.4,0.5,0.6,0.7,0.8,0.9,1], "format": ".1f", "labelExpr": "round(datum.value*10) % 2 === 0 ? datum.label : ''", "tickSize": {"condition": {"test": "round(datum.value*10) % 2 === 0", "value": -9}, "value": -5}, "labelPadding": 18, "title": "XAS [Arb. Units]", "titleFontSize": 38, "titlePadding": 15}}
          }
        },
        {
          "data": {"values": [{"x": 846.4, "y": 0.938, "t": "TEY"}]},
          "mark": {"type": "text", "align": "left", "baseline": "alphabetic", "fontSize": 21, "color": "black"},
          "encoding": {"x": {"field": "x", "type": "quantitative", "scale": {"domain": [840, 890], "nice": false}, "axis": null}, "y": {"field": "y", "type": "quantitative", "scale": {"domain": [-0.099, 1.104], "nice": false}, "axis": null}, "text": {"field": "t"}}
        },
        {
          "data": {"values": [{"x": 853.4, "y": 0.895, "t": "Ni-L₃"}, {"x": 869.0, "y": 0.489, "t": "Ni-L₂"}]},
          "mark": {"type": "text", "align": "left", "baseline": "alphabetic", "fontSize": 27, "color": "black"},
          "encoding": {"x": {"field": "x", "type": "quantitative", "scale": {"domain": [840, 890], "nice": false}, "axis": null}, "y": {"field": "y", "type": "quantitative", "scale": {"domain": [-0.099, 1.104], "nice": false}, "axis": null}, "text": {"field": "t"}}
        },
        {
          "data": {"values": [{"x": 877.9, "y": 0.886, "t": "NdNiO₂"}]},
          "mark": {"type": "text", "align": "left", "baseline": "alphabetic", "fontSize": 28, "color": "#ff8000"},
          "encoding": {"x": {"field": "x", "type": "quantitative", "scale": {"domain": [840, 890], "nice": false}, "axis": null}, "y": {"field": "y", "type": "quantitative", "scale": {"domain": [-0.099, 1.104], "nice": false}, "axis": null}, "text": {"field": "t"}}
        }
      ],
      "resolve": {"axis": {"x": "independent", "y": "independent"}}
    },
    {
      "width": 582, "height": 276,
      "view": {"stroke": "black", "strokeWidth": 4.5},
      "title": {"text": "(b)", "offset": 23, "dx": 0},
      "layer": [
        {
          "data": {"values": [{}]},
          "mark": {"type": "rule", "color": "black", "strokeWidth": 3.5},
          "encoding": {"y": {"datum": 0, "type": "quantitative", "scale": {"domain": [-0.498, 4.036], "nice": false}, "axis": {"orient": "right", "values": [0,0.5,1,1.5,2,2.5,3,3.5,4], "labels": false, "title": null, "tickSize": {"condition": {"test": "datum.value % 1 === 0", "value": -9}, "value": -5}}}}
        },
        {
          "data": {"name": "bXASo"},
          "mark": {"type": "line", "color": "#ff8000", "strokeWidth": 4.5, "strokeJoin": "round"},
          "encoding": {"x": {"field": "e", "type": "quantitative", "scale": {"domain": [965, 1025], "nice": false}, "axis": null}, "y": {"field": "v", "type": "quantitative", "scale": {"domain": [-0.498, 4.036], "nice": false}, "axis": null}}
        },
        {
          "data": {"name": "bXASb"},
          "mark": {"type": "line", "color": "#0000ff", "strokeWidth": 4.5, "strokeJoin": "round"},
          "encoding": {
            "x": {"field": "e", "type": "quantitative", "scale": {"domain": [965, 1025], "nice": false}, "axis": {"orient": "top", "values": [970,975,980,985,990,995,1000,1005,1010,1015,1020], "labels": false, "title": null, "tickSize": {"condition": {"test": "datum.value % 10 === 0", "value": -9}, "value": -5}}},
            "y": {"field": "v", "type": "quantitative", "scale": {"domain": [-0.498, 4.036], "nice": false}, "axis": {"orient": "left", "values": [0,0.5,1,1.5,2,2.5,3,3.5,4], "format": "d", "labelExpr": "datum.value % 1 === 0 ? datum.label : ''", "tickSize": {"condition": {"test": "datum.value % 1 === 0", "value": -9}, "value": -5}, "labelPadding": 18, "title": "XAS [Arb. Units]", "titleFontSize": 38, "titlePadding": 31}}
          }
        },
        {
          "data": {"values": [{"x": 969.0, "y": 3.44, "t": "Nd-M₅"}, {"x": 996.6, "y": 1.66, "t": "Nd-M₄"}]},
          "mark": {"type": "text", "align": "left", "baseline": "alphabetic", "fontSize": 27, "color": "black"},
          "encoding": {"x": {"field": "x", "type": "quantitative", "scale": {"domain": [965, 1025], "nice": false}, "axis": null}, "y": {"field": "y", "type": "quantitative", "scale": {"domain": [-0.498, 4.036], "nice": false}, "axis": null}, "text": {"field": "t"}}
        },
        {
          "data": {"values": [{"x": 1023.3, "y": 3.41, "t": "Nd₀.₈Sr₀.₂NiO₂"}]},
          "mark": {"type": "text", "align": "right", "baseline": "alphabetic", "fontSize": 27, "color": "#0000ff"},
          "encoding": {"x": {"field": "x", "type": "quantitative", "scale": {"domain": [965, 1025], "nice": false}, "axis": null}, "y": {"field": "y", "type": "quantitative", "scale": {"domain": [-0.498, 4.036], "nice": false}, "axis": null}, "text": {"field": "t"}}
        },
        {
          "data": {"values": [{"x": 1023.3, "y": 2.84, "t": "NdNiO₂"}]},
          "mark": {"type": "text", "align": "right", "baseline": "alphabetic", "fontSize": 27, "color": "#ff8000"},
          "encoding": {"x": {"field": "x", "type": "quantitative", "scale": {"domain": [965, 1025], "nice": false}, "axis": null}, "y": {"field": "y", "type": "quantitative", "scale": {"domain": [-0.498, 4.036], "nice": false}, "axis": null}, "text": {"field": "t"}}
        }
      ],
      "resolve": {"axis": {"x": "independent", "y": "independent"}}
    },
    {
      "width": 583, "height": 418,
      "view": {"stroke": "black", "strokeWidth": 4.5},
      "layer": [
        {
          "data": {"values": [{}]},
          "mark": {"type": "rule", "color": "black", "strokeWidth": 3.5},
          "encoding": {"y": {"datum": 0, "type": "quantitative", "scale": {"domain": [-5.48, 5.01], "nice": false}, "axis": null}}
        },
        {
          "data": {"name": "aXMCD"},
          "mark": {"type": "line", "color": "black", "strokeWidth": 4.5, "strokeJoin": "round"},
          "encoding": {
            "x": {"field": "e", "type": "quantitative", "scale": {"domain": [840, 890], "nice": false}, "axis": {"orient": "bottom", "values": [840,845,850,855,860,865,870,875,880,885,890], "format": "d", "labelExpr": "datum.value % 10 === 0 ? datum.label : ''", "tickSize": {"condition": {"test": "datum.value % 10 === 0", "value": -9}, "value": -5}, "labelPadding": 21, "title": "Photon Energy [eV]", "titleFontSize": 35, "titlePadding": 21}},
            "y": {"field": "v", "type": "quantitative", "scale": {"domain": [-5.48, 5.01], "nice": false}, "axis": {"orient": "left", "values": [-5,-4,-3,-2,-1,0,1,2,3,4], "format": "d", "labelExpr": "datum.value % 2 === 0 ? replace(datum.label, '\u2212', '-') : ''", "tickSize": {"condition": {"test": "datum.value % 2 === 0", "value": -9}, "value": -5}, "labelPadding": 18, "title": "XMCD [% L₃]", "titleFontSize": 38, "titlePadding": 21}}
          }
        },
        {
          "data": {"values": [{"x": 841.9, "y": -4.37, "t": "4 K"}, {"x": 841.9, "y": -5.08, "t": "9T"}]},
          "mark": {"type": "text", "align": "left", "baseline": "alphabetic", "fontSize": 21, "color": "black"},
          "encoding": {"x": {"field": "x", "type": "quantitative", "scale": {"domain": [840, 890], "nice": false}, "axis": null}, "y": {"field": "y", "type": "quantitative", "scale": {"domain": [-5.48, 5.01], "nice": false}, "axis": null}, "text": {"field": "t"}}
        },
        {
          "data": {"name": "aInt"},
          "mark": {"type": "line", "color": "#ff0000", "strokeWidth": 5, "strokeDash": [0.1, 9.5], "strokeCap": "round"},
          "encoding": {
            "x": {"field": "e", "type": "quantitative", "scale": {"domain": [840, 890], "nice": false}, "axis": {"orient": "top", "values": [845,850,855,860,865,870,875,880,885], "labels": false, "title": null, "tickSize": {"condition": {"test": "datum.value % 10 === 0", "value": -9}, "value": -5}}},
            "y": {"field": "v", "type": "quantitative", "scale": {"domain": [-7.6, 6.95], "nice": false}, "axis": {"orient": "right", "values": [-7,-6,-5,-4,-3,-2,-1,0,1,2,3,4,5,6], "format": "d", "labelExpr": "datum.value % 2 === 0 ? replace(datum.label, '\u2212', '-') : ''", "tickSize": {"condition": {"test": "datum.value % 2 === 0", "value": -9}, "value": -5}, "labelPadding": 17, "title": "Integral [Arb. Units]", "titleFontSize": 38, "titlePadding": 12}}
          }
        }
      ],
      "resolve": {"scale": {"y": "independent"}, "axis": {"x": "independent", "y": "independent"}}
    },
    {
      "width": 582, "height": 418,
      "view": {"stroke": "black", "strokeWidth": 4.5},
      "layer": [
        {
          "data": {"values": [{}]},
          "mark": {"type": "rule", "color": "black", "strokeWidth": 3.5},
          "encoding": {"y": {"datum": 0, "type": "quantitative", "scale": {"domain": [-12.67, 11.84], "nice": false}, "axis": null}}
        },
        {
          "data": {"name": "bXMCDo"},
          "mark": {"type": "line", "color": "#ff8000", "strokeWidth": 4.5, "strokeJoin": "round"},
          "encoding": {"x": {"field": "e", "type": "quantitative", "scale": {"domain": [965, 1025], "nice": false}, "axis": null}, "y": {"field": "v", "type": "quantitative", "scale": {"domain": [-12.67, 11.84], "nice": false}, "axis": null}}
        },
        {
          "data": {"name": "bXMCDb"},
          "mark": {"type": "line", "color": "#0000ff", "strokeWidth": 4.5, "strokeJoin": "round"},
          "encoding": {
            "x": {"field": "e", "type": "quantitative", "scale": {"domain": [965, 1025], "nice": false}, "axis": {"orient": "bottom", "values": [970,975,980,985,990,995,1000,1005,1010,1015,1020], "format": "d", "labelExpr": "datum.value % 10 === 0 ? datum.label : ''", "tickSize": {"condition": {"test": "datum.value % 10 === 0", "value": -9}, "value": -5}, "labelPadding": 21, "title": "Photon Energy [eV]", "titleFontSize": 35, "titlePadding": 21}},
            "y": {"field": "v", "type": "quantitative", "scale": {"domain": [-12.67, 11.84], "nice": false}, "axis": {"orient": "left", "values": [-12,-10,-8,-6,-4,-2,0,2,4,6,8,10], "format": "d", "labelExpr": "datum.value % 4 === 0 ? replace(datum.label, '\u2212', '-') : ''", "tickSize": {"condition": {"test": "datum.value % 4 === 0", "value": -9}, "value": -5}, "labelPadding": 18, "title": "XMCD [% M₅]", "titleFontSize": 38, "titlePadding": 8}}
          }
        },
        {
          "data": {"values": [{"x": 967.0, "y": -9.84, "t": "4 K"}, {"x": 967.0, "y": -11.54, "t": "9T"}]},
          "mark": {"type": "text", "align": "left", "baseline": "alphabetic", "fontSize": 21, "color": "black"},
          "encoding": {"x": {"field": "x", "type": "quantitative", "scale": {"domain": [965, 1025], "nice": false}, "axis": null}, "y": {"field": "y", "type": "quantitative", "scale": {"domain": [-12.67, 11.84], "nice": false}, "axis": null}, "text": {"field": "t"}}
        },
        {
          "data": {"name": "bInto"},
          "mark": {"type": "line", "color": "#ff8000", "strokeWidth": 5, "strokeDash": [0.1, 9.5], "strokeCap": "round"},
          "encoding": {"x": {"field": "e", "type": "quantitative", "scale": {"domain": [965, 1025], "nice": false}, "axis": null}, "y": {"field": "v", "type": "quantitative", "scale": {"domain": [-1.07, 1.0], "nice": false}, "axis": null}}
        },
        {
          "data": {"name": "bIntb"},
          "mark": {"type": "line", "color": "#0000ff", "strokeWidth": 5, "strokeDash": [0.1, 9.5], "strokeCap": "round"},
          "encoding": {
            "x": {"field": "e", "type": "quantitative", "scale": {"domain": [965, 1025], "nice": false}, "axis": {"orient": "top", "values": [970,975,980,985,990,995,1000,1005,1010,1015,1020], "labels": false, "title": null, "tickSize": {"condition": {"test": "datum.value % 10 === 0", "value": -9}, "value": -5}}},
            "y": {"field": "v", "type": "quantitative", "scale": {"domain": [-1.07, 1.0], "nice": false}, "axis": {"orient": "right", "values": [-1,-0.75,-0.5,-0.25,0,0.25,0.5,0.75,1], "format": ".1f", "labelExpr": "round(datum.value*4) % 2 === 0 ? replace(datum.label, '\u2212', '-') : ''", "tickSize": {"condition": {"test": "round(datum.value*4) % 2 === 0", "value": -9}, "value": -5}, "labelPadding": 19, "title": "Integral [Arb.Units]", "titleFontSize": 38, "titlePadding": 20}}
          }
        }
      ],
      "resolve": {"scale": {"y": "independent"}, "axis": {"x": "independent", "y": "independent"}}
    },
    {
      "width": 583, "height": 221,
      "data": {"values": [{}]},
      "mark": {"type": "point", "opacity": 0}
    },
    {
      "width": 582, "height": 221,
      "data": {"values": [{}]},
      "mark": {"type": "point", "opacity": 0}
    },
    {
      "width": 583, "height": 474,
      "view": {"stroke": "black", "strokeWidth": 4.5},
      "title": {"text": "(c)", "offset": 23, "dx": -26},
      "layer": [
        {
          "data": {"values": [{}]},
          "mark": {"type": "rule", "color": "black", "strokeWidth": 4},
          "encoding": {"y": {"datum": 0, "type": "quantitative", "scale": {"domain": [-8, 8], "nice": false}, "axis": {"orient": "right", "values": [-8,-6,-4,-2,0,2,4,6,8], "labels": false, "title": null, "tickSize": -9}}}
        },
        {
          "data": {"values": [{}]},
          "mark": {"type": "rule", "color": "black", "strokeWidth": 4},
          "encoding": {"x": {"datum": 0, "type": "quantitative", "scale": {"domain": [-2, 2], "nice": false}, "axis": {"orient": "top", "values": [-2,-1.5,-1,-0.5,0,0.5,1,1.5,2], "labels": false, "title": null, "tickSize": {"condition": {"test": "datum.value % 1 === 0", "value": -9}, "value": -5}}}}
        },
        {
          "data": {"name": "cO"},
          "mark": {"type": "point", "shape": "circle", "filled": false, "size": 230, "strokeWidth": 1.2, "opacity": 1, "color": "#ff8000", "clip": true},
          "encoding": {"x": {"field": "h", "type": "quantitative", "scale": {"domain": [-2, 2], "nice": false}, "axis": null}, "y": {"field": "v", "type": "quantitative", "scale": {"domain": [-8, 8], "nice": false}, "axis": null}}
        },
        {
          "data": {"name": "cB"},
          "mark": {"type": "point", "shape": "circle", "filled": false, "size": 220, "strokeWidth": 1.2, "opacity": 1, "color": "#0000ff", "clip": true},
          "encoding": {
            "x": {"field": "h", "type": "quantitative", "scale": {"domain": [-2, 2], "nice": false}, "axis": {"orient": "bottom", "values": [-2,-1.5,-1,-0.5,0,0.5,1,1.5,2], "format": "d", "labelExpr": "datum.value % 1 === 0 ? replace(datum.label, '\u2212', '-') : ''", "tickSize": {"condition": {"test": "datum.value % 1 === 0", "value": -9}, "value": -5}, "labelPadding": 20, "labelFontSize": 27, "title": "μ₀H [T]", "titleFont": "Liberation Serif", "titleFontSize": 36, "titlePadding": 28}},
            "y": {"field": "v", "type": "quantitative", "scale": {"domain": [-8, 8], "nice": false}, "axis": {"orient": "left", "values": [-8,-6,-4,-2,0,2,4,6,8], "format": "d", "labelExpr": "replace(datum.label, '\u2212', '-')", "tickSize": -9, "labelPadding": 23, "labelFontSize": 30, "title": "-XMCD [%L₃]", "titleFontSize": 39, "titlePadding": 24}}
          }
        },
        {
          "data": {"values": [{"x": -1.92, "y": 6.77, "t": "Ni-L₃"}]},
          "mark": {"type": "text", "align": "left", "baseline": "alphabetic", "fontSize": 24, "color": "black"},
          "encoding": {"x": {"field": "x", "type": "quantitative", "scale": {"domain": [-2, 2], "nice": false}, "axis": null}, "y": {"field": "y", "type": "quantitative", "scale": {"domain": [-8, 8], "nice": false}, "axis": null}, "text": {"field": "t"}}
        },
        {
          "data": {"values": [{"x": 1.915, "y": -7.7, "t": "4K"}]},
          "mark": {"type": "text", "align": "right", "baseline": "alphabetic", "fontSize": 23, "color": "black"},
          "encoding": {"x": {"field": "x", "type": "quantitative", "scale": {"domain": [-2, 2], "nice": false}, "axis": null}, "y": {"field": "y", "type": "quantitative", "scale": {"domain": [-8, 8], "nice": false}, "axis": null}, "text": {"field": "t"}}
        },
        {
          "data": {"values": [{"x": -0.078, "y": 3.76, "t": "Nd₀.₈Sr₀.₂NiO₂"}]},
          "mark": {"type": "text", "align": "right", "baseline": "alphabetic", "fontSize": 33, "color": "#0000ff"},
          "encoding": {"x": {"field": "x", "type": "quantitative", "scale": {"domain": [-2, 2], "nice": false}, "axis": null}, "y": {"field": "y", "type": "quantitative", "scale": {"domain": [-8, 8], "nice": false}, "axis": null}, "text": {"field": "t"}}
        },
        {
          "data": {"values": [{"x": -0.149, "y": 1.89, "t": "NdNiO₂"}]},
          "mark": {"type": "text", "align": "right", "baseline": "alphabetic", "fontSize": 31, "color": "#ff8000"},
          "encoding": {"x": {"field": "x", "type": "quantitative", "scale": {"domain": [-2, 2], "nice": false}, "axis": null}, "y": {"field": "y", "type": "quantitative", "scale": {"domain": [-8, 8], "nice": false}, "axis": null}, "text": {"field": "t"}}
        }
      ],
      "resolve": {"axis": {"x": "independent", "y": "independent"}}
    },
    {
      "width": 582, "height": 474,
      "view": {"stroke": "black", "strokeWidth": 4.5},
      "title": {"text": "(d)", "offset": 30, "dx": -3},
      "layer": [
        {
          "data": {"values": [{}]},
          "mark": {"type": "rule", "color": "black", "strokeWidth": 4},
          "encoding": {"y": {"datum": 0, "type": "quantitative", "scale": {"domain": [-9.89, 10.65], "nice": false}, "axis": {"orient": "right", "values": [-8,-4,0,4,8], "labels": false, "title": null, "tickSize": -9}}}
        },
        {
          "data": {"values": [{}]},
          "mark": {"type": "rule", "color": "black", "strokeWidth": 4},
          "encoding": {"x": {"datum": 0, "type": "quantitative", "scale": {"domain": [-2, 2], "nice": false}, "axis": {"orient": "top", "values": [-2,-1.5,-1,-0.5,0,0.5,1,1.5,2], "labels": false, "title": null, "tickSize": {"condition": {"test": "datum.value % 1 === 0", "value": -9}, "value": -5}}}}
        },
        {
          "data": {"name": "dO"},
          "mark": {"type": "point", "shape": "circle", "filled": false, "size": 210, "strokeWidth": 1.2, "opacity": 1, "color": "#ff8000", "clip": true},
          "encoding": {"x": {"field": "h", "type": "quantitative", "scale": {"domain": [-2, 2], "nice": false}, "axis": null}, "y": {"field": "v", "type": "quantitative", "scale": {"domain": [-9.89, 10.65], "nice": false}, "axis": null}}
        },
        {
          "data": {"name": "dB"},
          "mark": {"type": "point", "shape": "circle", "filled": false, "size": 200, "strokeWidth": 1.2, "opacity": 1, "color": "#0000ff", "clip": true},
          "encoding": {
            "x": {"field": "h", "type": "quantitative", "scale": {"domain": [-2, 2], "nice": false}, "axis": {"orient": "bottom", "values": [-2,-1.5,-1,-0.5,0,0.5,1,1.5,2], "format": "d", "labelExpr": "datum.value % 1 === 0 ? replace(datum.label, '\u2212', '-') : ''", "tickSize": {"condition": {"test": "datum.value % 1 === 0", "value": -9}, "value": -5}, "labelPadding": 20, "labelFontSize": 27, "title": "μ₀H [T]", "titleFont": "Liberation Serif", "titleFontSize": 36, "titlePadding": 28}},
            "y": {"field": "v", "type": "quantitative", "scale": {"domain": [-9.89, 10.65], "nice": false}, "axis": {"orient": "left", "values": [-8,-4,0,4,8], "format": "d", "labelExpr": "replace(datum.label, '\u2212', '-')", "tickSize": -9, "labelPadding": 20, "labelFontSize": 30, "title": "-XMCD [%M₄]", "titleFontSize": 39, "titlePadding": 27}}
          }
        },
        {
          "data": {"values": [{"x": -1.904, "y": 9.02, "t": "Nd-M₄"}]},
          "mark": {"type": "text", "align": "left", "baseline": "alphabetic", "fontSize": 25, "color": "black"},
          "encoding": {"x": {"field": "x", "type": "quantitative", "scale": {"domain": [-2, 2], "nice": false}, "axis": null}, "y": {"field": "y", "type": "quantitative", "scale": {"domain": [-9.89, 10.65], "nice": false}, "axis": null}, "text": {"field": "t"}}
        },
        {
          "data": {"values": [{"x": 1.865, "y": -9.18, "t": "4K"}]},
          "mark": {"type": "text", "align": "right", "baseline": "alphabetic", "fontSize": 23, "color": "black"},
          "encoding": {"x": {"field": "x", "type": "quantitative", "scale": {"domain": [-2, 2], "nice": false}, "axis": null}, "y": {"field": "y", "type": "quantitative", "scale": {"domain": [-9.89, 10.65], "nice": false}, "axis": null}, "text": {"field": "t"}}
        },
        {
          "data": {"values": [{"x": 1.656, "y": 8.61, "t": "Nd₀.₈Sr₀.₂NiO₂"}]},
          "mark": {"type": "text", "align": "right", "baseline": "alphabetic", "fontSize": 34, "color": "#0000ff"},
          "encoding": {"x": {"field": "x", "type": "quantitative", "scale": {"domain": [-2, 2], "nice": false}, "axis": null}, "y": {"field": "y", "type": "quantitative", "scale": {"domain": [-9.89, 10.65], "nice": false}, "axis": null}, "text": {"field": "t"}}
        },
        {
          "data": {"values": [{"x": 1.962, "y": 1.15, "t": "NdNiO₂"}]},
          "mark": {"type": "text", "align": "right", "baseline": "alphabetic", "fontSize": 34, "color": "#ff8000"},
          "encoding": {"x": {"field": "x", "type": "quantitative", "scale": {"domain": [-2, 2], "nice": false}, "axis": null}, "y": {"field": "y", "type": "quantitative", "scale": {"domain": [-9.89, 10.65], "nice": false}, "axis": null}, "text": {"field": "t"}}
        }
      ],
      "resolve": {"axis": {"x": "independent", "y": "independent"}}
    }
  ]
}
